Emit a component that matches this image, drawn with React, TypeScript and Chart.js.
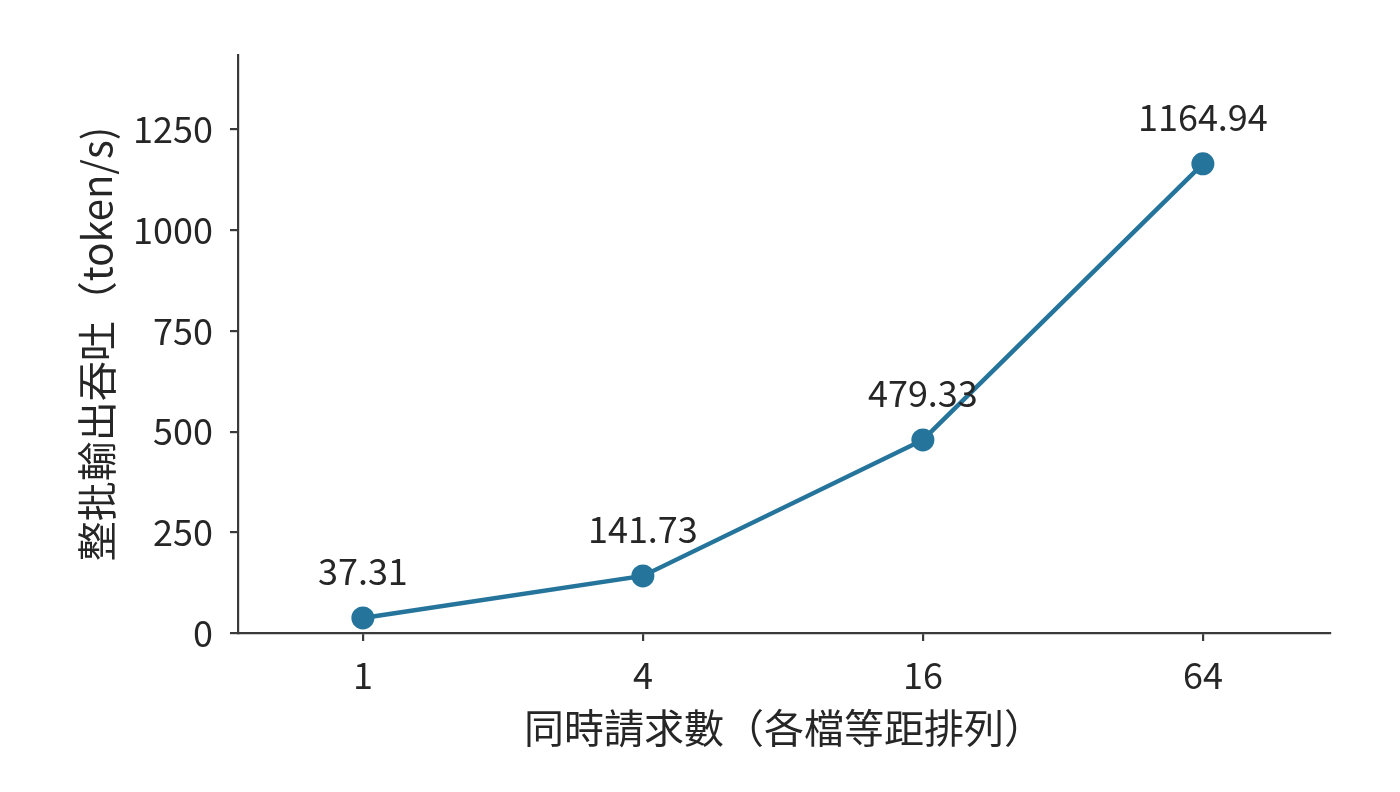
import React, { useEffect, useRef } from 'react';
import { Chart, registerables } from 'chart.js';

Chart.register(...registerables);

// concurrent requests (categories, evenly spaced)
const concurrency = ['1', '4', '16', '64'];
// batch output throughput, token/s
const throughput = [37.31, 141.73, 479.33, 1164.94];
const yTicks = [0, 250, 500, 750, 1000, 1250];

const FONT = "'Noto Sans CJK TC', 'Noto Sans CJK JP', sans-serif";
const LINE = '#25749b';
const INK = '#262626';
const AXIS = '#3a3a3a';

// draws the value above each point
const valueLabels = {
  id: 'valueLabels',
  afterDatasetsDraw(chart: Chart) {
    const ctx = chart.ctx;
    const meta = chart.getDatasetMeta(0);
    ctx.save();
    ctx.font = `36px ${FONT}`;
    ctx.fillStyle = INK;
    ctx.textAlign = 'center';
    ctx.textBaseline = 'alphabetic';
    meta.data.forEach((pt: any, i: number) => {
      ctx.fillText(throughput[i].toFixed(2), pt.x, pt.y - 33);
    });
    ctx.restore();
  },
};

const App: React.FC = () => {
  const canvasRef = useRef<HTMLCanvasElement | null>(null);
  const chartRef = useRef<Chart | null>(null);

  useEffect(() => {
    document.body.style.margin = '0';
    if (!canvasRef.current) return;
    const ctx = canvasRef.current.getContext('2d');
    if (!ctx) return;
    if (chartRef.current) chartRef.current.destroy();

    chartRef.current = new Chart(ctx, {
      type: 'line',
      data: {
        datasets: [
          {
            data: throughput.map((v, i) => ({ x: i, y: v })),
            borderColor: LINE,
            backgroundColor: LINE,
            borderWidth: 4.5,
            pointRadius: 11.5,
            pointBorderWidth: 0,
            pointBackgroundColor: LINE,
            tension: 0,
          },
        ],
      },
      options: {
        animation: false,
        responsive: true,
        maintainAspectRatio: false,
        layout: { padding: { top: 55, right: 70, left: 0, bottom: 0 } },
        plugins: {
          legend: { display: false },
          tooltip: { enabled: false },
        },
        scales: {
          x: {
            type: 'linear',
            min: -0.446,
            max: 3.454,
            afterBuildTicks: (scale: any) => {
              scale.ticks = concurrency.map((_, i) => ({ value: i }));
            },
            afterFit: (scale: any) => {
              scale.height = 159;
            },
            ticks: {
              callback: (v: any) => concurrency[v as number] ?? '',
              color: INK,
              font: { family: FONT, size: 36 },
              padding: 13,
              maxRotation: 0,
            },
            grid: {
              display: true,
              drawOnChartArea: false,
              drawTicks: true,
              tickLength: 8,
              color: AXIS,
              lineWidth: 2.2,
            },
            border: { display: true, color: AXIS, width: 2.2 },
            title: {
              display: true,
              text: '同時請求數（各檔等距排列）',
              color: INK,
              font: { family: FONT, size: 40 },
              padding: { top: 0, bottom: 40 },
            },
          },
          y: {
            type: 'linear',
            min: 0,
            max: 1435,
            afterBuildTicks: (scale: any) => {
              scale.ticks = yTicks.map((v) => ({ value: v }));
            },
            afterFit: (scale: any) => {
              scale.width = 238;
            },
            ticks: {
              callback: (v: any) => String(v),
              color: INK,
              font: { family: FONT, size: 36 },
              padding: 17,
            },
            grid: {
              display: true,
              drawOnChartArea: false,
              drawTicks: true,
              tickLength: 8,
              color: AXIS,
              lineWidth: 2.2,
            },
            border: { display: true, color: AXIS, width: 2.2 },
            title: {
              display: true,
              text: '整批輸出吞吐（token/s)',
              color: INK,
              font: { family: FONT, size: 40 },
              padding: { top: 73, bottom: 0 },
            },
          },
        },
      },
      plugins: [valueLabels],
    });

    return () => {
      if (chartRef.current) {
        chartRef.current.destroy();
        chartRef.current = null;
      }
    };
  }, []);

  return (
    <div style={{ position: 'relative', width: 1400, height: 792, background: '#fff' }}>
      <canvas ref={canvasRef} />
    </div>
  );
};

export default App;
